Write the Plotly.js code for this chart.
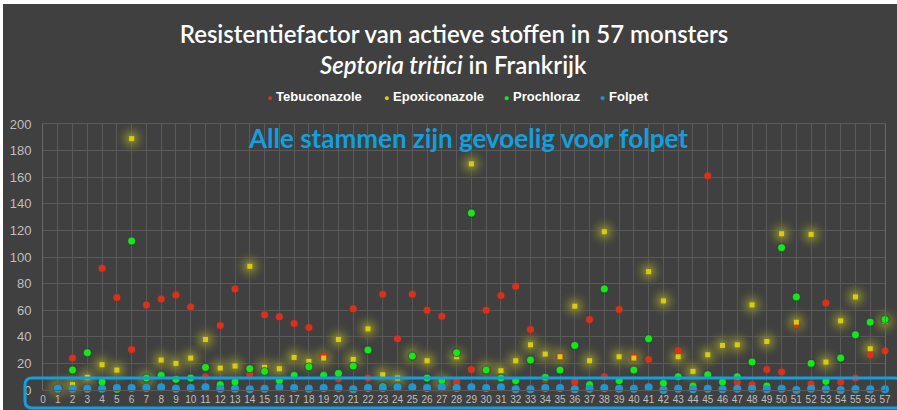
<!DOCTYPE html>
<html>
<head>
<meta charset="utf-8">
<script src="https://cdn.plot.ly/plotly-3.0.1.min.js"></script>
<style>
  body { margin: 0; background: #ffffff; }
  #myPlot { position: absolute; left: 3px; top: 4px; width: 894px; height: 406px; }
</style>
</head>
<body>
<div id="myPlot"></div>
<script>
// monsters 1..57
var samples = [];
for (var n = 1; n <= 57; n++) samples.push(n);

var tebuconazole = [1,24,0.5,91.5,69.5,30.5,64,68.5,71.5,62.5,10,48.5,76,12,56.5,55,50,47,25.5,8.5,
  61,9,72,38.5,72,60,55.5,6,15.5,60,71,78,45.5,8,25,6,53,10,60.5,25,
  23,2.5,29.5,4,161,6,6,4,15.5,13.5,49,4.5,65.5,6,9,26.5,29.5];
var epoxiconazole = [2,4,9.5,19,15,189,9,22.5,20,24,38,16.5,18,93,17,16,24.5,21.5,24,38,
  23,46,11.5,9,26,22,6,25,170,16,14.5,22,34,27,25,63,22,119,25,24,
  89,67,25,14,26.5,33.5,34,64,36.5,117.5,51,117,21,52,70,31,51.5];
var prochloraz = [1,15,28,6,0.5,112,9,11,8,9,17,4,6,16,14,7,11,17.5,11,12.5,
  18,30,2.5,2,25.5,9,7,28,133,15,9,7,22.5,9.5,15,33.5,4,76,7,15,
  38.5,5,10,3,11.5,6,10,21,3,107,70,20,6.5,24,41.5,51,53];
var folpet = [1,1,1,1,1.5,1.5,1.5,2,1,1.5,2,1,1,0.5,1,2,1.5,1,1.5,1.5,
  0.5,1.5,1.5,2,2,1.5,2,1.5,2,1.5,2,0.5,0.5,1.5,1.5,0.5,1,1.5,1,1,
  2,0,1,0.5,1,0.5,1,1,0.5,1,0,1,0.5,0,0.5,0.5,0.5];

var seriesNames = ["Tebuconazole", "Epoxiconazole", "Prochloraz", "Folpet"];
var seriesColors = ["#d8311c", "#d9cc10", "#19e619", "#1d98d3"];

var xTicks = [];
for (var t = 0; t <= 57; t++) xTicks.push(t);

// soft glow under the points (radial: gradient.color is the centre)
function halo(y, size, col){
  return {
    x: samples, y: y, mode: "markers", type: "scatter",
    showlegend: false, hoverinfo: "skip", cliponaxis: false,
    marker: {size: size, color: "rgba(64,64,64,0)", line: {width: 0},
      gradient: {type: "radial", color: col}}
  };
}

var data = [
  halo(epoxiconazole, 34, "rgba(150,150,45,1)"),
  halo(tebuconazole, 13, "rgba(170,45,25,0.9)"),
  halo(prochloraz, 13, "rgba(30,20,50,0.7)"),
  halo(folpet, 12, "rgba(30,130,180,0.7)"),
  {
    x: samples, y: tebuconazole, name: seriesNames[0],
    mode: "markers", type: "scatter", cliponaxis: false,
    marker: {size: 7, color: seriesColors[0], line: {width: 0}}
  },
  {
    x: samples, y: epoxiconazole, name: seriesNames[1],
    mode: "markers", type: "scatter", cliponaxis: false,
    marker: {size: 5, symbol: "square", color: seriesColors[1], line: {width: 0}}
  },
  {
    x: samples, y: prochloraz, name: seriesNames[2],
    mode: "markers", type: "scatter", cliponaxis: false,
    marker: {size: 8, color: seriesColors[2], line: {width: 0.8, color: "rgba(40,35,60,0.7)"}}
  },
  {
    x: samples, y: folpet, name: seriesNames[3],
    mode: "markers", type: "scatter", cliponaxis: false,
    marker: {size: 8, color: seriesColors[3], line: {width: 0}}
  }
];

// rounded box around the low values (paper coords)
function roundRect(x0, y0, x1, y1, rx, ry){
  return "M" + (x0+rx) + "," + y1 + " L" + (x1-rx) + "," + y1 +
    " Q" + x1 + "," + y1 + " " + x1 + "," + (y1-ry) +
    " L" + x1 + "," + (y0+ry) + " Q" + x1 + "," + y0 + " " + (x1-rx) + "," + y0 +
    " L" + (x0+rx) + "," + y0 + " Q" + x0 + "," + y0 + " " + x0 + "," + (y0+ry) +
    " L" + x0 + "," + (y1-ry) + " Q" + x0 + "," + y1 + " " + (x0+rx) + "," + y1 + " Z";
}

var annotations = [{
  text: "<i>Septoria tritici</i> in Frankrijk",
  xref: "paper", yref: "paper", x: 0.488, y: 1.222,
  xanchor: "center", yanchor: "middle", showarrow: false,
  font: {family: "Lato, 'Open Sans', sans-serif", size: 24, color: "#ffffff", weight: 600}
}, {
  text: "<b>Alle stammen zijn gevoelig voor folpet</b>",
  xref: "paper", yref: "paper", x: 0.505, y: 0.947,
  xanchor: "center", yanchor: "middle", showarrow: false,
  font: {family: "Lato, 'Open Sans', sans-serif", size: 26, color: "#129fdf"}
}];

// legend row: dot + name, placed like the original
var legendX = [0.2637, 0.4026, 0.5451, 0.6591];
for (var k = 0; k < seriesNames.length; k++){
  annotations.push({
    text: "<span style='color:" + seriesColors[k] + "; font-size:9px'>●</span> <b>" + seriesNames[k] + "</b>",
    xref: "paper", yref: "paper", x: legendX[k], y: 1.105,
    xanchor: "left", yanchor: "middle", showarrow: false,
    font: {family: "'Liberation Sans', Arial, sans-serif", size: 13, color: "#ffffff"}
  });
}

var layout = {
  width: 894, height: 406,
  margin: {l: 40, r: 12, t: 120, b: 20},
  paper_bgcolor: "#404040",
  plot_bgcolor: "#404040",
  title: {
    text: "Resistentiefactor van actieve stoffen in 57 monsters",
    font: {family: "Lato, 'Open Sans', sans-serif", size: 24, color: "#ffffff", weight: 600},
    x: 0.5045, xanchor: "center", y: 0.924, yanchor: "middle", yref: "container"
  },
  showlegend: false,
  xaxis: {
    range: [0, 57], tickvals: xTicks, ticktext: xTicks.map(String),
    showgrid: true, gridcolor: "#5a5a5a", gridwidth: 1,
    zeroline: false, showline: true, linecolor: "#5a5a5a", mirror: true,
    tickfont: {family: "'Liberation Sans', Arial, sans-serif", size: 10, color: "#bfbfbf"},
    ticks: ""
  },
  yaxis: {
    range: [0, 200], dtick: 20, tick0: 0,
    showgrid: true, gridcolor: "#5a5a5a", gridwidth: 1,
    zeroline: false, showline: true, linecolor: "#6a6a6a", mirror: true,
    tickfont: {family: "'Liberation Sans', Arial, sans-serif", size: 13, color: "#bfbfbf"},
    ticks: "", ticklabelstandoff: 8
  },
  annotations: annotations,
  shapes: [{
    type: "path", xref: "paper", yref: "paper",
    path: roundRect(-0.0214, -0.0677, 1.02, 0.045, 0.0085, 0.027),
    line: {color: "#129fdf", width: 3}, fillcolor: "rgba(0,0,0,0)"
  }]
};

Plotly.newPlot("myPlot", data, layout, {displayModeBar: false, staticPlot: true});
</script>
</body>
</html>
